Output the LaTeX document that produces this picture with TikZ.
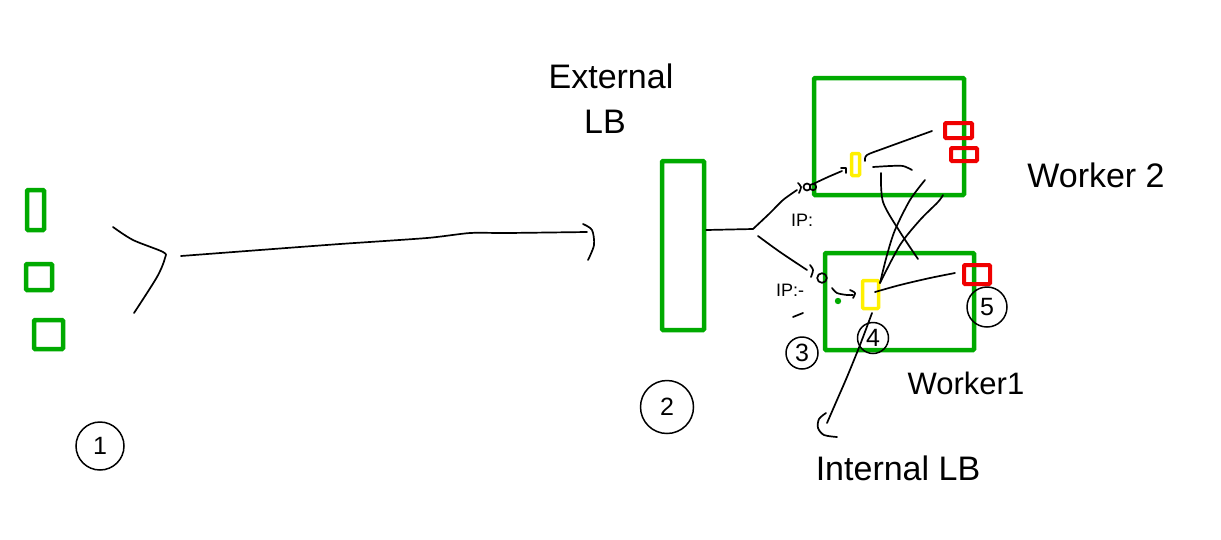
\documentclass[tikz,border=0pt]{standalone}
\usepackage{fontspec}
\setmainfont{Liberation Sans}
\usetikzlibrary{positioning}

\definecolor{sketchgreen}{RGB}{0,170,0}
\definecolor{sketchyellow}{RGB}{255,240,0}
\definecolor{sketchred}{RGB}{240,0,0}

\begin{document}
\begin{tikzpicture}[
  x=1pt, y=-1pt,
  greenbox/.style={draw=sketchgreen, line width=4.5pt, rounded corners=1pt, inner sep=0pt},
  yellowbox/.style={draw=sketchyellow, line width=3.5pt, rounded corners=1pt, inner sep=0pt},
  redbox/.style={draw=sketchred, line width=4pt, rounded corners=1pt, inner sep=0pt},
  pen/.style={line width=1.7pt, line cap=round, line join=round},
  numcircle/.style={draw, circle, line width=1.5pt, inner sep=0pt, font=\fontsize{25}{27}\selectfont},
  hand/.style={font=\fontsize{34}{38}\selectfont},
  iplabel/.style={font=\fontsize{18}{20}\selectfont},
]
\fill[white] (0,0) rectangle (1221,539);
\useasboundingbox (0,0) rectangle (1221,539);

% clients
\node[greenbox, minimum width=17, minimum height=40] (c1) at (35.5,210) {};
\node[greenbox, minimum width=26, minimum height=26] (c2) at (39,277) {};
\node[greenbox, minimum width=29, minimum height=29] (c3) at (48.5,334.5) {};

% external LB
\node[greenbox, minimum width=42, minimum height=169] (lb) at (683,245.5) {};
\node[hand] (extlbl) at (611,76) {External};
\node[hand] (extlb) at (605,122) {LB};

% workers
\node[greenbox, minimum width=150, minimum height=117] (w2) at (889,136.5) {};
\node[greenbox, minimum width=149, minimum height=97] (w1) at (899.5,301.5) {};
\node[hand] (w2lbl) at (1096,175) {Worker 2};
\node[hand, font=\fontsize{31}{34}\selectfont] (w1lbl) at (966,383) {Worker1};

\node[yellowbox, minimum width=8, minimum height=22] (y2) at (855.5,164.5) {};
\node[yellowbox, minimum width=16, minimum height=28] (y1) at (870.5,294.5) {};
\node[redbox, minimum width=27, minimum height=15] (r2a) at (958.5,130.5) {};
\node[redbox, minimum width=26, minimum height=13] (r2b) at (964,154.5) {};
\node[redbox, minimum width=26, minimum height=19] (r1) at (977,274.5) {};
\fill[sketchgreen] (838,301) circle (3.2);

\node[hand] (intlbl) at (898,468) {Internal LB};
\node[iplabel] (ip2) at (802,220) {IP:};
\node[iplabel] (ip1) at (790,290) {IP:-};

% circled numbers
\node[numcircle, minimum size=48] (n1) at (100,446) {1};
\node[numcircle, minimum size=53] (n2) at (667,407) {2};
\node[numcircle, minimum size=32] (n3) at (802,353) {3};
\node[numcircle, minimum size=31] (n4) at (873,338) {4};
\node[numcircle, minimum size=40] (n5) at (987,307) {5};

% client side bracket and long line
\draw[pen] plot[smooth, tension=0.5] coordinates {(113,227) (133,240) (163,252) (165,258) (157,277) (134,313)};
\draw[pen] plot[smooth, tension=0.4] coordinates {(181,256) (260,250) (340,244) (427,238) (470,233) (507,233) (587,232)};
\draw[pen] plot[smooth] coordinates {(583,224) (592,230) (594,245) (588,260)};

% fork from LB
\coordinate (fork) at (753,229);
\draw[pen] ([yshift=15.5pt]lb.east) -- (fork);
\draw[pen] plot[smooth] coordinates {(fork) (770,213) (783,200) (797,190)};
\draw[pen] plot[smooth] coordinates {(758,236) (780,252) (807,270)};
\draw[pen] plot[smooth] coordinates {(798,183) (801,187) (799,193)};
\draw[pen] (807,187) circle (3.5) (813,187) circle (3.2);
\draw[pen] plot[smooth] coordinates {(810,265) (813,270) (811,277)};
\draw[pen] (822,278) circle (4.8);
\draw[pen] (793,317) -- (803,313);

% worker 2 lines
\draw[pen] plot[smooth] coordinates {(813,184) (828,177) (842,171)};
\draw[pen] (841,168) -- (846,168) -- (846,173);
\draw[pen] plot[smooth] coordinates {(865,161) (867,155) (885,148) (932,131)};
\draw[pen] plot[smooth] coordinates {(873,167) (890,166) (903,166) (912,170)};
\draw[pen] plot[smooth] coordinates {(881,173) (883,202) (900,232) (918,259)};
\draw[pen] plot[smooth] coordinates {(925,180) (910,200) (895,230) (887,255) (880,283)};
\draw[pen] plot[smooth] coordinates {(943,195) (938,202) (920,220) (900,245) (880,283)};

% worker 1 lines
\draw[pen] plot[smooth] coordinates {(832,288) (837,293) (847,295) (853,295)};
\draw[pen] plot[smooth] coordinates {(850,290) (855,293) (853,298)};
\draw[pen] plot[smooth] coordinates {(875,292) (900,285) (930,278) (955,273)};
\draw[pen] plot[smooth] coordinates {(872,313) (860,345) (847,377) (837,400) (827,423)};
\draw[pen] plot[smooth] coordinates {(826,413) (819,419) (818,428) (824,435) (837,437)};
\end{tikzpicture}
\end{document}
